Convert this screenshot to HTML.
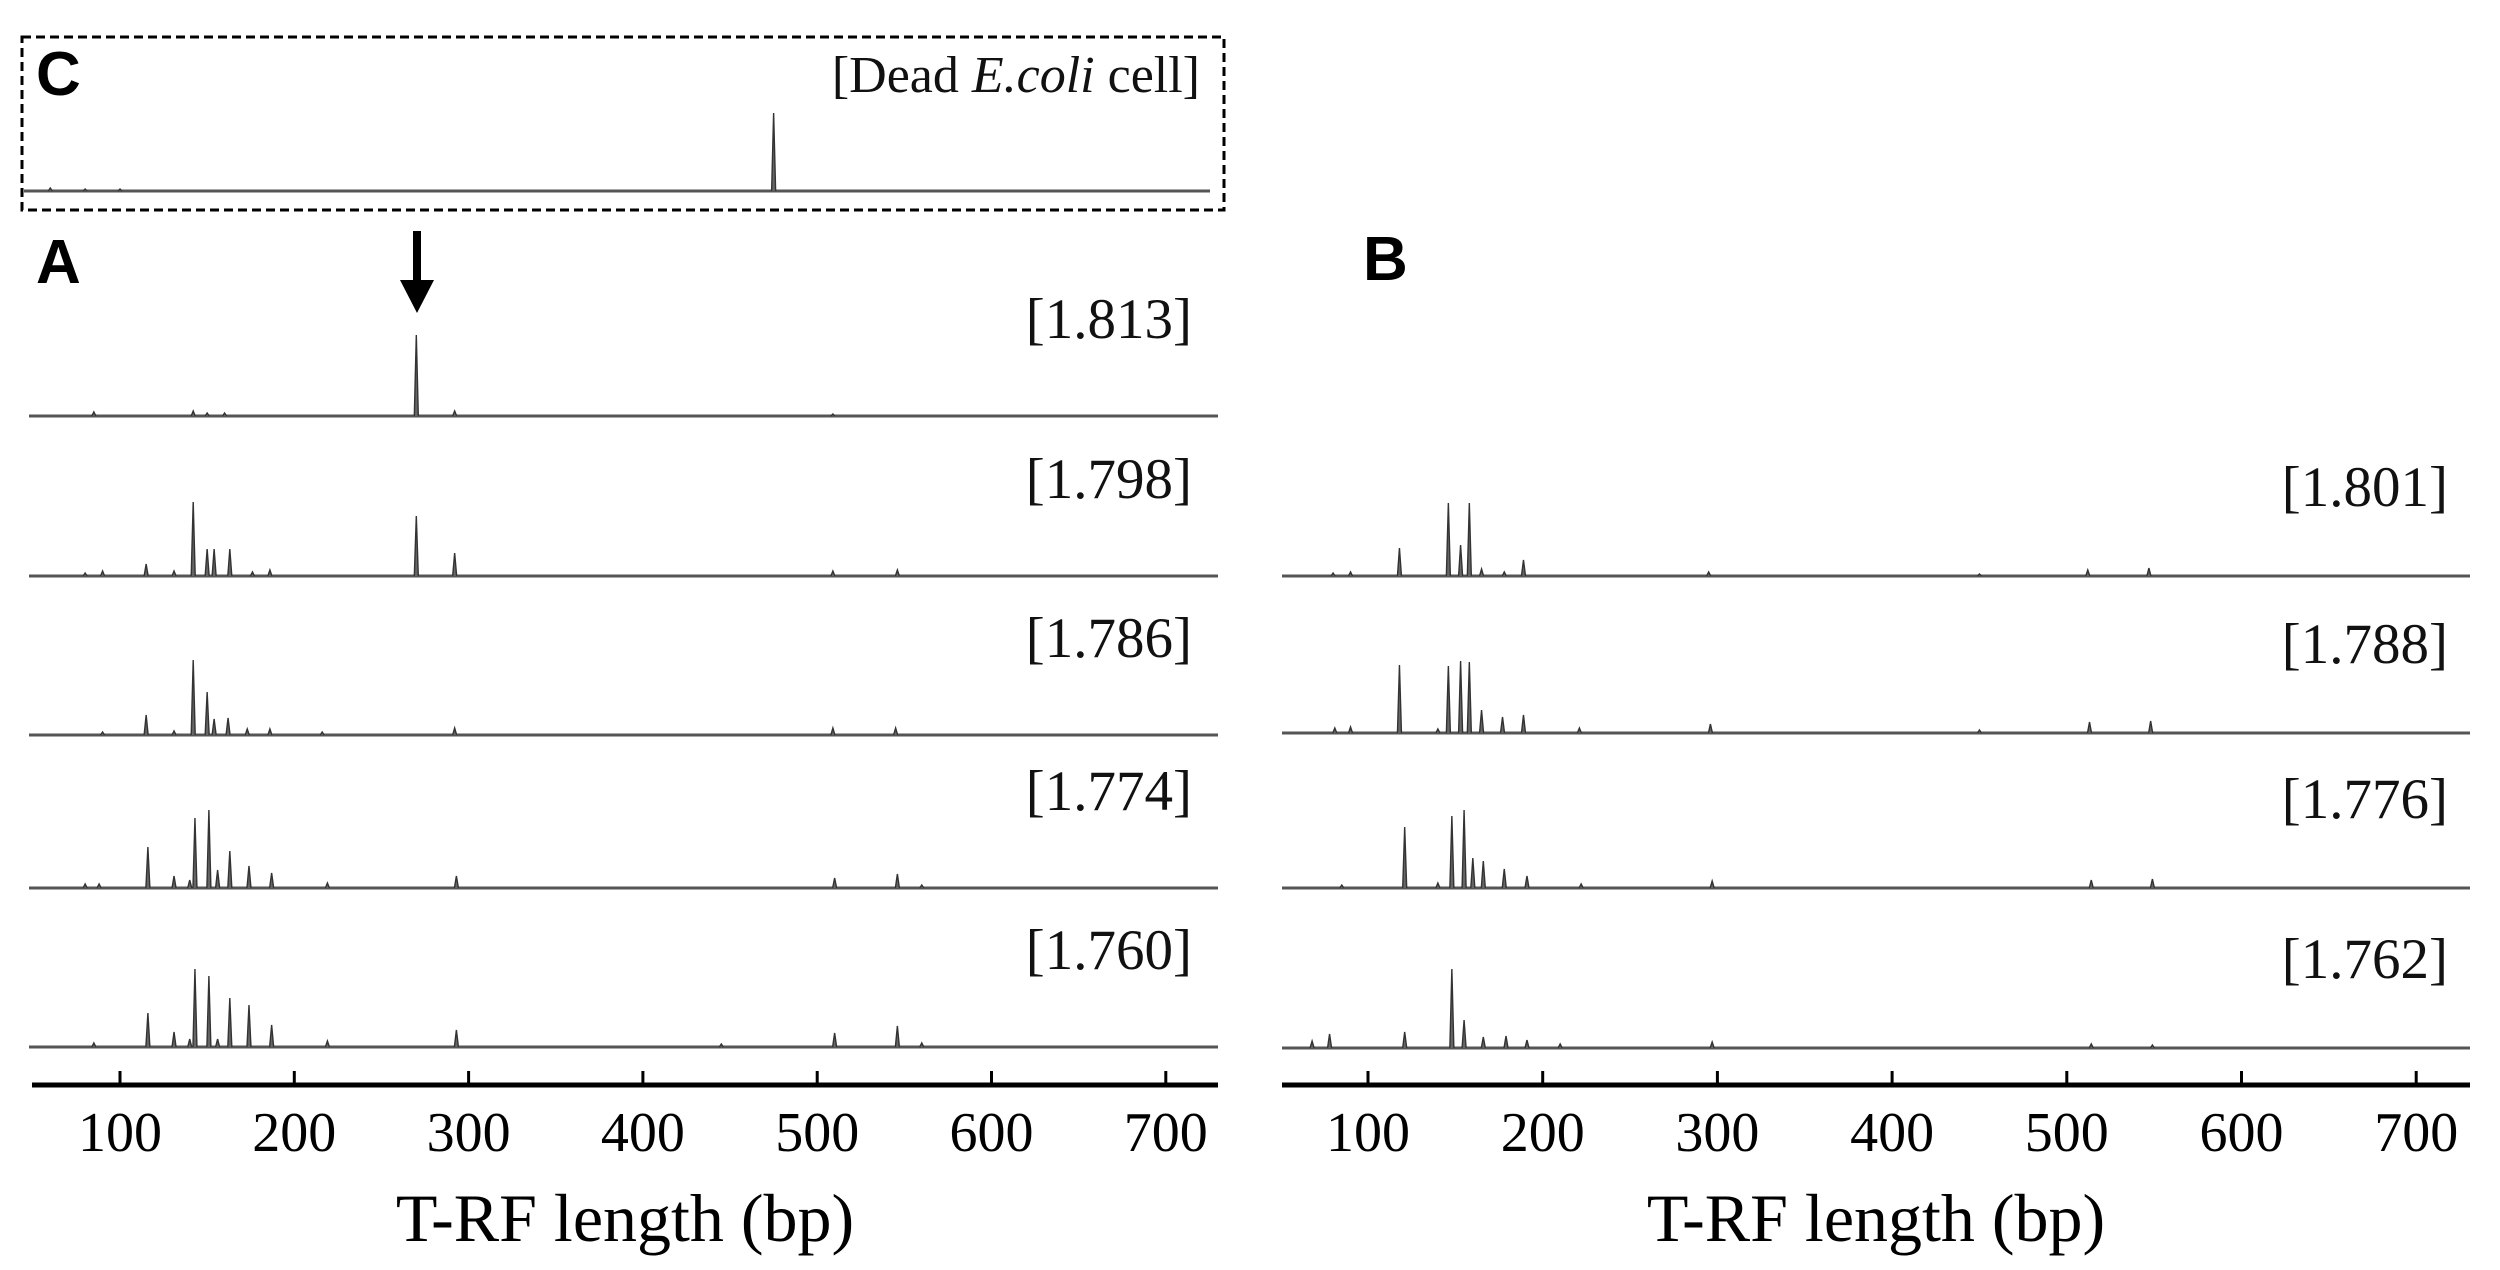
<!DOCTYPE html>
<html><head><meta charset="utf-8"><style>
html,body{margin:0;padding:0;background:#fff;}
svg{display:block;}
.lbl{font-family:"Liberation Serif",serif;font-size:57px;fill:#111;}
.tick{font-family:"Liberation Serif",serif;font-size:56px;fill:#000;}
.ttl{font-family:"Liberation Serif",serif;font-size:68px;fill:#000;}
.pl{font-family:"Liberation Sans",sans-serif;font-size:62px;font-weight:bold;fill:#000;}
</style></head><body>
<svg id="chart" width="2500" height="1270" viewBox="0 0 2500 1270" xmlns="http://www.w3.org/2000/svg">
<rect x="22" y="37" width="1202" height="173" fill="none" stroke="#000" stroke-width="3" stroke-dasharray="9 5"/>
<text class="pl" x="36" y="95">C</text>
<text class="lbl" x="1200" y="92" text-anchor="end" style="font-size:52px">[Dead <tspan font-style="italic">E.coli</tspan> cell]</text>
<text class="pl" x="36" y="283">A</text>
<text class="pl" x="1363" y="280">B</text>
<g>
<line x1="417" y1="231" x2="417" y2="290" stroke="#000" stroke-width="8"/>
<polygon points="400,280 434,280 417,313" fill="#000"/>
</g>
<g id="plots"></g>
</svg>
<script>
// tick labels
const tickLabels = [100,200,300,400,500,600,700];
// panel C
const cX = [60,80,100,475];
const cH = [3,2,2,78];
// panel A traces: bp positions and peak intensities
const a1X = [85,142,150,160,270,292,509];
const a1H = [4,5,3,3,81,5,2];
const a2X = [80,90,115,131,142,150,154,163,176,186,270,292,509,546];
const a2H = [3,5,12,5,74,27,27,27,4,6,60,23,5,6];
const a3X = [90,115,131,142,150,154,162,173,186,216,292,509,545];
const a3H = [3,20,4,75,43,16,17,6,6,3,7,7,7];
const a4X = [80,88,116,131,140,143,151,156,163,174,187,219,293,510,546,560];
const a4H = [4,4,41,12,8,70,78,18,37,22,15,5,12,10,14,3];
const a5X = [85,116,131,140,143,151,156,163,174,187,219,293,445,510,546,560];
const a5H = [4,34,15,8,78,71,8,49,42,22,6,17,3,14,21,4];
// panel B traces
const b1X = [80,90,118,146,153,158,165,178,189,295,450,512,547];
const b1H = [3,4,28,73,31,73,7,4,16,4,2,6,8];
const b2X = [81,90,118,140,146,153,158,165,177,189,221,296,450,513,548];
const b2H = [5,6,68,4,67,72,71,23,16,18,5,9,3,11,12];
const b3X = [85,121,140,148,155,160,166,178,191,222,297,514,549];
const b3H = [3,61,5,72,78,30,27,19,12,4,7,8,9];
const b4X = [68,78,121,148,155,166,179,191,210,297,514,549];
const b4H = [7,14,16,79,28,11,12,8,4,6,4,3];
const labelsA = ["[1.813]","[1.798]","[1.786]","[1.774]","[1.760]"];
const labelsB = ["[1.801]","[1.788]","[1.776]","[1.762]"];

const NS="http://www.w3.org/2000/svg";
const g=document.getElementById('plots');
function xA(v){return 120+(v-100)*1.743;}
function xB(v){return 1368+(v-100)*1.747;}
function yS(h){return h*1.0;}
function mk(tag,attrs){const e=document.createElementNS(NS,tag);for(const k in attrs)e.setAttribute(k,attrs[k]);g.appendChild(e);return e;}
function trace(xs,hs,sx,base,x0,x1,name){
  const l=mk('line',{x1:x0,y1:base,x2:x1,y2:base,stroke:'#555','stroke-width':3});
  
  
  for(let i=0;i<xs.length;i++){
    const x=sx(xs[i]),y=base-yS(hs[i]);
    const p=mk('polyline',{points:(x-2)+','+base+' '+x+','+y+' '+(x+2)+','+base,fill:'#666',stroke:'#333','stroke-width':1.4});
    
    
  }
}
function label(t,x,y,name){const e=mk('text',{x:x,y:y,'text-anchor':'end',class:'lbl'});e.textContent=t;
  
  }
function axis(sx,x0,x1,y,name){
  const a=mk('line',{x1:x0,y1:y,x2:x1,y2:y,stroke:'#000','stroke-width':5});
  
  
  tickLabels.forEach(v=>{
    const t=mk('line',{x1:sx(v),y1:y-14,x2:sx(v),y2:y,stroke:'#000','stroke-width':3});
    
    
    const tx=mk('text',{x:sx(v),y:y+66,'text-anchor':'middle',class:'tick'});tx.textContent=v;
    
    
  });
  const tt=mk('text',{x:(x0+x1)/2,y:1241,'text-anchor':'middle',class:'ttl'});tt.textContent='T-RF length (bp)';
  
  
}
trace(cX,cH,xA,191,24,1210,'panel-c-trace');
const aBases=[416,576,735,888,1047];
const aData=[[a1X,a1H],[a2X,a2H],[a3X,a3H],[a4X,a4H],[a5X,a5H]];
aData.forEach((d,i)=>{trace(d[0],d[1],xA,aBases[i],29,1218,'panel-a-trace-'+(i+1));label(labelsA[i],1192,aBases[i]-78,'panel-a-label-'+(i+1));});
const bBases=[576,733,888,1048];
const bData=[[b1X,b1H],[b2X,b2H],[b3X,b3H],[b4X,b4H]];
bData.forEach((d,i)=>{trace(d[0],d[1],xB,bBases[i],1282,2470,'panel-b-trace-'+(i+1));label(labelsB[i],2448,bBases[i]-70,'panel-b-label-'+(i+1));});
axis(xA,32,1218,1085,'panel-a');
axis(xB,1282,2470,1085,'panel-b');
</script>
</body></html>
